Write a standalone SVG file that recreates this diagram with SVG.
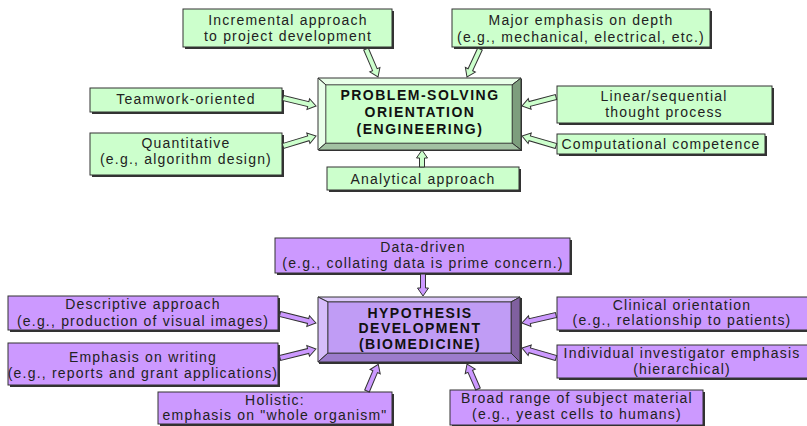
<svg xmlns="http://www.w3.org/2000/svg" width="807" height="426" viewBox="0 0 807 426">
<style>
text{font-family:"Liberation Sans",Arial,sans-serif;font-size:14px;fill:#222;text-anchor:middle;letter-spacing:1.2px}
text.b{font-weight:bold;font-size:14px;letter-spacing:1.5px;fill:#111}
.sh{fill:#333}
.g{fill:#ccffcc;stroke:#333;stroke-width:1}
.p{fill:#cc99ff;stroke:#333;stroke-width:1}
.ag{fill:#ccffcc;stroke:#333;stroke-width:1;stroke-linejoin:miter}
.ap{fill:#cc99ff;stroke:#333;stroke-width:1;stroke-linejoin:miter}
.edge{stroke:#333;stroke-width:1}
</style>
<rect width="807" height="426" fill="#fff"/>

<!-- ENGINEERING -->
<g id="eng-center">
<rect x="319" y="79" width="203" height="72" class="sh"/>
<polygon points="318,78 521,78 512,85 326,85" fill="#e8ffe8" class="edge"/>
<polygon points="318,78 326,85 326,143 318,150" fill="#eaffea" class="edge"/>
<polygon points="521,78 521,150 512,143 512,85" fill="#7d9e7d" class="edge"/>
<polygon points="318,150 521,150 512,143 326,143" fill="#a2c2a2" class="edge"/>
<rect x="326" y="85" width="186" height="58" fill="#ccffcc" stroke="#333" stroke-width="0.6"/>
<text class="b" x="420" y="100">PROBLEM-SOLVING</text>
<text class="b" x="420" y="117">ORIENTATION</text>
<text class="b" x="420" y="134">(ENGINEERING)</text>
</g>
<g id="incremental">
<rect x="185" y="11" width="209" height="38" class="sh"/>
<rect x="183" y="9" width="209" height="38" class="g"/>
<text x="288" y="25">Incremental approach</text>
<text x="288" y="41">to project development</text>
</g>
<g id="major">
<rect x="454" y="11" width="258" height="38" class="sh"/>
<rect x="452" y="9" width="258" height="38" class="g"/>
<text x="581" y="25">Major emphasis on depth</text>
<text x="581" y="42">(e.g., mechanical, electrical, etc.)</text>
</g>
<g id="teamwork">
<rect x="92" y="90" width="192" height="24" class="sh"/>
<rect x="90" y="88" width="192" height="24" class="g"/>
<text x="186" y="104">Teamwork-oriented</text>
</g>
<g id="quantitative">
<rect x="92" y="135" width="192" height="42" class="sh"/>
<rect x="90" y="133" width="192" height="42" class="g"/>
<text x="186" y="148">Quantitative</text>
<text x="186" y="164">(e.g., algorithm design)</text>
</g>
<g id="linear">
<rect x="559" y="88" width="215" height="37" class="sh"/>
<rect x="557" y="86" width="215" height="37" class="g"/>
<text x="664" y="101">Linear/sequential</text>
<text x="664" y="117">thought process</text>
</g>
<g id="computational">
<rect x="559" y="136" width="208" height="20" class="sh"/>
<rect x="557" y="134" width="208" height="20" class="g"/>
<text x="661" y="149">Computational competence</text>
</g>
<g id="analytical">
<rect x="329" y="169" width="192" height="23" class="sh"/>
<rect x="327" y="167" width="192" height="23" class="g"/>
<text x="423" y="184">Analytical approach</text>
</g>

<!-- BIOMEDICINE -->
<g id="bio-center">
<rect x="319" y="298" width="203" height="66" class="sh"/>
<polygon points="318,297 520,297 511,302 328,302" fill="#dcc8fa" class="edge"/>
<polygon points="318,297 328,302 328,353 318,362" fill="#d6bdfa" class="edge"/>
<polygon points="520,297 520,362 511,353 511,302" fill="#80609f" class="edge"/>
<polygon points="318,362 520,362 511,353 328,353" fill="#9c7ccc" class="edge"/>
<rect x="328" y="302" width="183" height="51" fill="#c09cf5" stroke="#333" stroke-width="0.8"/>
<text class="b" x="420" y="318">HYPOTHESIS</text>
<text class="b" x="420" y="333">DEVELOPMENT</text>
<text class="b" x="420" y="349">(BIOMEDICINE)</text>
</g>
<g id="data-driven">
<rect x="277" y="240" width="295" height="35" class="sh"/>
<rect x="275" y="238" width="295" height="35" class="p"/>
<text x="423" y="252">Data-driven</text>
<text x="423" y="268">(e.g., collating data is prime concern.)</text>
</g>
<g id="descriptive">
<rect x="10" y="298" width="270" height="34" class="sh"/>
<rect x="8" y="296" width="270" height="34" class="p"/>
<text x="143" y="309">Descriptive approach</text>
<text x="143" y="326">(e.g., production of visual images)</text>
</g>
<g id="writing">
<rect x="10" y="345" width="270" height="42" class="sh"/>
<rect x="8" y="343" width="270" height="42" class="p"/>
<text x="143" y="362">Emphasis on writing</text>
<text x="143" y="378">(e.g., reports and grant applications)</text>
</g>
<g id="clinical">
<rect x="559" y="299" width="250" height="33" class="sh"/>
<rect x="557" y="297" width="252" height="33" class="p"/>
<text x="682" y="310">Clinical orientation</text>
<text x="682" y="325">(e.g., relationship to patients)</text>
</g>
<g id="individual">
<rect x="559" y="347" width="250" height="33" class="sh"/>
<rect x="557" y="345" width="252" height="33" class="p"/>
<text x="682" y="358">Individual investigator emphasis</text>
<text x="682" y="374">(hierarchical)</text>
</g>
<g id="holistic">
<rect x="160" y="394" width="234" height="32" class="sh"/>
<rect x="158" y="392" width="234" height="32" class="p"/>
<text x="275" y="405">Holistic:</text>
<text x="275" y="420">emphasis on "whole organism"</text>
</g>
<g id="broad">
<rect x="452" y="392" width="253" height="35" class="sh"/>
<rect x="450" y="390" width="253" height="35" class="p"/>
<text x="577" y="403">Broad range of subject material</text>
<text x="577" y="419">(e.g., yeast cells to humans)</text>
</g>

<g id="connectors">
<polygon class="ag" transform="translate(366,49) rotate(66.8)" points="0,-2.5 22.5,-2.5 22.5,-5.5 30.5,0 22.5,5.5 22.5,2.5 0,2.5"/>
<polygon class="ag" transform="translate(480,49) rotate(114.9)" points="0,-2.5 22.9,-2.5 22.9,-5.5 30.9,0 22.9,5.5 22.9,2.5 0,2.5"/>
<polygon class="ag" transform="translate(283,98) rotate(13.6)" points="0,-2.5 26,-2.5 26,-5.5 34,0 26,5.5 26,2.5 0,2.5"/>
<polygon class="ag" transform="translate(283,146) rotate(-16.9)" points="0,-2.5 26.5,-2.5 26.5,-5.5 34.5,0 26.5,5.5 26.5,2.5 0,2.5"/>
<polygon class="ag" transform="translate(556,97) rotate(165.2)" points="0,-2.5 27.2,-2.5 27.2,-5.5 35.2,0 27.2,5.5 27.2,2.5 0,2.5"/>
<polygon class="ag" transform="translate(556,146) rotate(-163.6)" points="0,-2.5 27.4,-2.5 27.4,-5.5 35.4,0 27.4,5.5 27.4,2.5 0,2.5"/>
<polygon class="ag" transform="translate(422,167) rotate(-90)" points="0,-2.5 9,-2.5 9,-5.5 17,0 9,5.5 9,2.5 0,2.5"/>

<polygon class="ap" transform="translate(423,274) rotate(90)" points="0,-2.5 14,-2.5 14,-5.5 22,0 14,5.5 14,2.5 0,2.5"/>
<polygon class="ap" transform="translate(280,314) rotate(14)" points="0,-2.5 29,-2.5 29,-5.5 37,0 29,5.5 29,2.5 0,2.5"/>
<polygon class="ap" transform="translate(280,358) rotate(-14)" points="0,-2.5 29,-2.5 29,-5.5 37,0 29,5.5 29,2.5 0,2.5"/>
<polygon class="ap" transform="translate(367,391) rotate(-67.1)" points="0,-2.5 21,-2.5 21,-5.5 29,0 21,5.5 21,2.5 0,2.5"/>
<polygon class="ap" transform="translate(478,389) rotate(-113.7)" points="0,-2.5 19.3,-2.5 19.3,-5.5 27.3,0 19.3,5.5 19.3,2.5 0,2.5"/>
<polygon class="ap" transform="translate(556,315) rotate(166.8)" points="0,-2.5 27,-2.5 27,-5.5 35,0 27,5.5 27,2.5 0,2.5"/>
<polygon class="ap" transform="translate(556,358) rotate(-163.6)" points="0,-2.5 27.4,-2.5 27.4,-5.5 35.4,0 27.4,5.5 27.4,2.5 0,2.5"/>
</g>
</svg>
